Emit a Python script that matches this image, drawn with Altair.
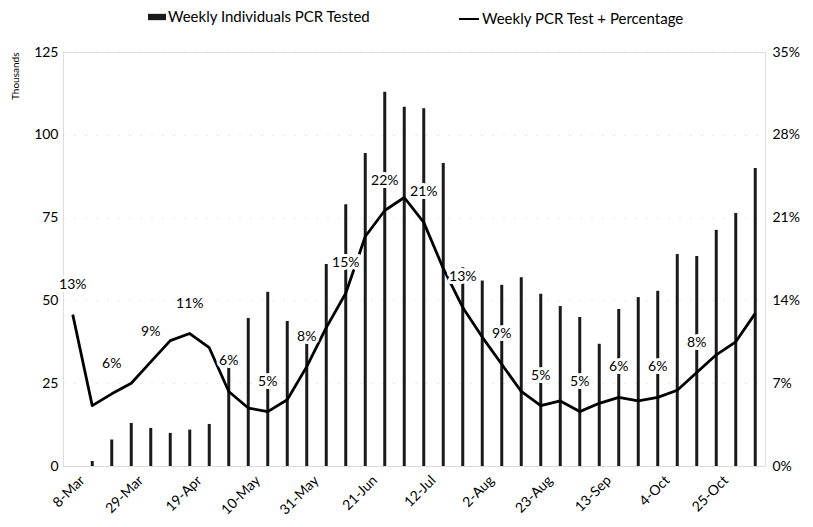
import altair as alt
import pandas as pd

weeks = ["8-Mar", "15-Mar", "22-Mar", "29-Mar", "5-Apr", "12-Apr", "19-Apr", "26-Apr",
         "3-May", "10-May", "17-May", "24-May", "31-May", "7-Jun", "14-Jun", "21-Jun",
         "28-Jun", "5-Jul", "12-Jul", "19-Jul", "26-Jul", "2-Aug", "9-Aug", "16-Aug",
         "23-Aug", "30-Aug", "6-Sep", "13-Sep", "20-Sep", "27-Sep", "4-Oct", "11-Oct",
         "18-Oct", "25-Oct", "1-Nov", "8-Nov"]

# Weekly individuals PCR tested (thousands)
tested = [None, 1.5, 8, 13, 11.5, 10, 11, 12.7, 31.7, 44.7, 52.6, 43.8, 40, 61, 79, 94.5,
          113, 108.5, 108, 91.5, 60, 56, 54.7, 57, 52, 48.3, 45, 36.9, 47.4, 51, 52.9, 64,
          63.4, 71.3, 76.4, 90]

# Weekly PCR test positive percentage
positivity = [12.8, 5.1, 6.1, 7.0, 8.8, 10.6, 11.2, 10.0, 6.3, 4.9, 4.6, 5.6, 8.4, 11.7,
              14.6, 19.4, 21.6, 22.7, 20.6, 16.7, 13.4, 10.9, 8.6, 6.3, 5.1, 5.5, 4.6, 5.3,
              5.8, 5.5, 5.8, 6.4, 7.9, 9.4, 10.5, 12.9]

left_ticks = [0, 25, 50, 75, 100, 125]
right_ticks = [0, 7, 14, 21, 28, 35]
x_tick_labels = weeks[::3][:12]

bar_name = "Weekly Individuals PCR Tested"
line_name = "Weekly PCR Test + Percentage"

df = pd.DataFrame({
    "week": weeks,
    "idx": list(range(len(weeks))),
    "tested": tested,
    "pct": positivity,
    "bar_series": bar_name,
    "line_series": line_name,
})

FONT = "Lato"

x_enc = alt.X(
    "week:N", sort=weeks,
    scale=alt.Scale(paddingInner=0, paddingOuter=0),
    axis=alt.Axis(values=x_tick_labels, labelAngle=-45, ticks=False, tickSize=0,
                  domain=False, grid=False, labelPadding=7, labelOffset=5, title=None,
                  labelFont=FONT, labelFontSize=14, labelColor="black"),
)

y_left = alt.Y(
    "tested:Q",
    scale=alt.Scale(domain=[0, 125], nice=False),
    axis=alt.Axis(values=left_ticks, ticks=False, tickSize=0, domain=False,
                  labelPadding=5, labelFont=FONT, labelFontSize=14, labelColor="black",
                  grid=True, gridColor="#b0b0b0", gridDash=[1, 10], gridOpacity=0.6,
                  title="Thousands", titleAnchor="end", titleFont=FONT,
                  titleFontSize=10, titleFontWeight="normal", titleColor="black",
                  titlePadding=13),
)

y_right = alt.Y(
    "pct:Q",
    scale=alt.Scale(domain=[0, 35], nice=False),
    axis=alt.Axis(orient="right", values=right_ticks, ticks=False, tickSize=0,
                  domain=False, grid=False, labelPadding=7,
                  labelExpr="datum.value + '%'", labelFont=FONT, labelFontSize=14,
                  labelColor="black", title=None),
)

base = alt.Chart(df)

bars = base.mark_bar(size=3).encode(
    x=x_enc,
    y=y_left,
    fill=alt.Fill("bar_series:N", scale=alt.Scale(range=["#1a1a1a"]),
                  legend=alt.Legend(orient="none", legendX=85, legendY=-44, title=None,
                                    symbolType="M-1,-0.35L1,-0.35L1,0.35L-1,0.35Z",
                                    symbolSize=324, symbolStrokeWidth=0,
                                    labelFont=FONT, labelFontSize=15, labelColor="black",
                                    labelOffset=2, labelLimit=0, padding=0)),
)

line = base.mark_line(strokeWidth=2.8, strokeJoin="round").encode(
    x=x_enc,
    y=y_right,
    stroke=alt.Stroke("line_series:N", scale=alt.Scale(range=["black"]),
                      legend=alt.Legend(orient="none", legendX=395, legendY=-44,
                                        title=None, symbolType="stroke",
                                        symbolSize=400, symbolStrokeWidth=2,
                                        labelFont=FONT, labelFontSize=15,
                                        labelColor="black", labelOffset=2,
                                        labelLimit=0, padding=0)),
)

labels_base = base.transform_filter(
    "datum.idx % 2 == 0 && datum.idx <= 32"
).transform_calculate(
    label="round(datum.pct) + '%'"
)

halo = labels_base.mark_text(
    font=FONT, fontSize=14, dy=-30, baseline="middle",
    stroke="white", strokeWidth=6, strokeJoin="round", color="white",
).encode(x=x_enc, y=y_right, text="label:N")

text = labels_base.mark_text(
    font=FONT, fontSize=14, dy=-30, baseline="middle", color="black",
).encode(x=x_enc, y=y_right, text="label:N")

right_layer = alt.layer(line, halo, text)

chart = alt.layer(bars, right_layer).resolve_scale(
    y="independent", fill="independent", stroke="independent"
).properties(
    width=702, height=414,
    autosize=alt.AutoSizeParams(type="none"),
    padding={"left": 55, "top": 44, "right": 38, "bottom": 52},
).configure_view(stroke=None).configure(background="white")

chart.save("out.html", embed_options={"renderer": "svg", "actions": False})
